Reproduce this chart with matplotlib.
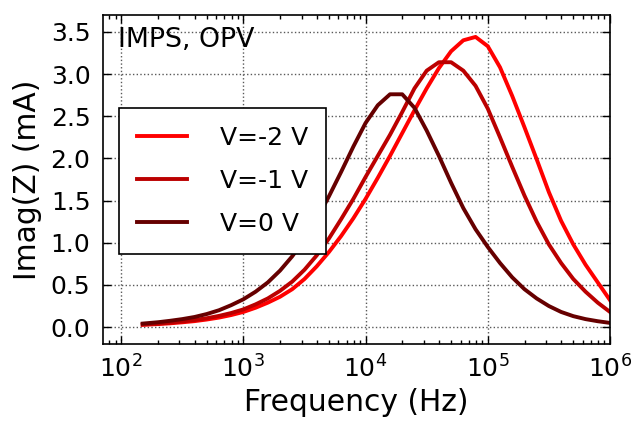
import matplotlib
matplotlib.use("Agg")
import matplotlib.pyplot as plt

# frequency grid (Hz)
freq = [150, 200, 251, 316, 398, 501, 631, 794, 1000, 1259, 1585, 1995,
        2512, 3162, 3981, 5012, 6310, 7943, 10000, 12589, 15849, 19953,
        25119, 31623, 39811, 50119, 63096, 79433, 100000, 125893, 158489,
        199526, 251189, 316228, 398107, 501187, 630957, 794328, 1000000]

# Imag(Z) in mA
v_m2 = [0.027, 0.036, 0.045, 0.057, 0.071, 0.090, 0.113, 0.143, 0.18,
        0.23, 0.29, 0.36, 0.45, 0.57, 0.72, 0.89, 1.08, 1.29, 1.52, 1.77,
        2.03, 2.30, 2.57, 2.83, 3.07, 3.27, 3.40, 3.44, 3.33, 3.08, 2.74,
        2.37, 1.99, 1.60, 1.26, 0.98, 0.74, 0.53, 0.32]
v_m1 = [0.032, 0.042, 0.053, 0.067, 0.084, 0.105, 0.133, 0.167, 0.21,
        0.27, 0.34, 0.43, 0.54, 0.68, 0.85, 1.05, 1.28, 1.52, 1.78, 2.03,
        2.28, 2.55, 2.83, 3.04, 3.14, 3.14, 3.04, 2.86, 2.59, 2.25, 1.90,
        1.56, 1.25, 0.98, 0.76, 0.57, 0.42, 0.29, 0.18]
v_0 = [0.042, 0.058, 0.075, 0.095, 0.12, 0.155, 0.20, 0.26, 0.33, 0.42,
       0.53, 0.67, 0.84, 1.04, 1.28, 1.55, 1.84, 2.14, 2.42, 2.63, 2.76,
       2.76, 2.60, 2.33, 2.03, 1.71, 1.41, 1.16, 0.95, 0.76, 0.59, 0.45,
       0.34, 0.25, 0.18, 0.13, 0.095, 0.07, 0.05]

labels = ["V=-2 V", "V=-1 V", "V=0 V"]
colors = ["#ff0000", "#bb0000", "#660000"]

fig = plt.figure(figsize=(6.35, 4.21), dpi=100)
ax = fig.add_axes([0.1622, 0.1829, 0.7984, 0.7815])

for y, lab, c in zip([v_m2, v_m1, v_0], labels, colors):
    ax.plot(freq, y, color=c, lw=2.8, label=lab)

ax.set_xscale("log")
ax.set_xlim(71, 1e6)
ax.set_ylim(-0.2, 3.7)
ax.set_yticks([0.0, 0.5, 1.0, 1.5, 2.0, 2.5, 3.0, 3.5])
ax.set_yticklabels(["0.0", "0.5", "1.0", "1.5", "2.0", "2.5", "3.0", "3.5"])

ax.grid(True, which="major", color="0.35", linestyle=":", linewidth=1.0)
ax.tick_params(which="both", direction="in", top=True, right=True,
               labelsize=18)
ax.tick_params(which="major", length=6, width=1)
ax.tick_params(which="minor", length=3, width=1)
ax.tick_params(axis="x", which="major", pad=8)
ax.tick_params(axis="y", which="major", pad=9)
for s in ax.spines.values():
    s.set_linewidth(1.2)

ax.set_xlabel("Frequency (Hz)", fontsize=21.4, labelpad=4)
ax.set_ylabel("Imag(Z) (mA)", fontsize=21.4, labelpad=6)

ax.text(0.03, 0.965, "IMPS, OPV", transform=ax.transAxes, fontsize=19.3,
        va="top", ha="left")

leg = ax.legend(loc="upper left", bbox_to_anchor=(0.0316, 0.717),
                borderaxespad=0, fontsize=18, fancybox=False,
                handlelength=2.0, handletextpad=1.35, labelspacing=0.77,
                borderpad=0.7)
leg.get_frame().set_edgecolor("black")
leg.get_frame().set_linewidth(1.2)
leg.get_frame().set_alpha(1)

fig.savefig("out.png", dpi=100)
